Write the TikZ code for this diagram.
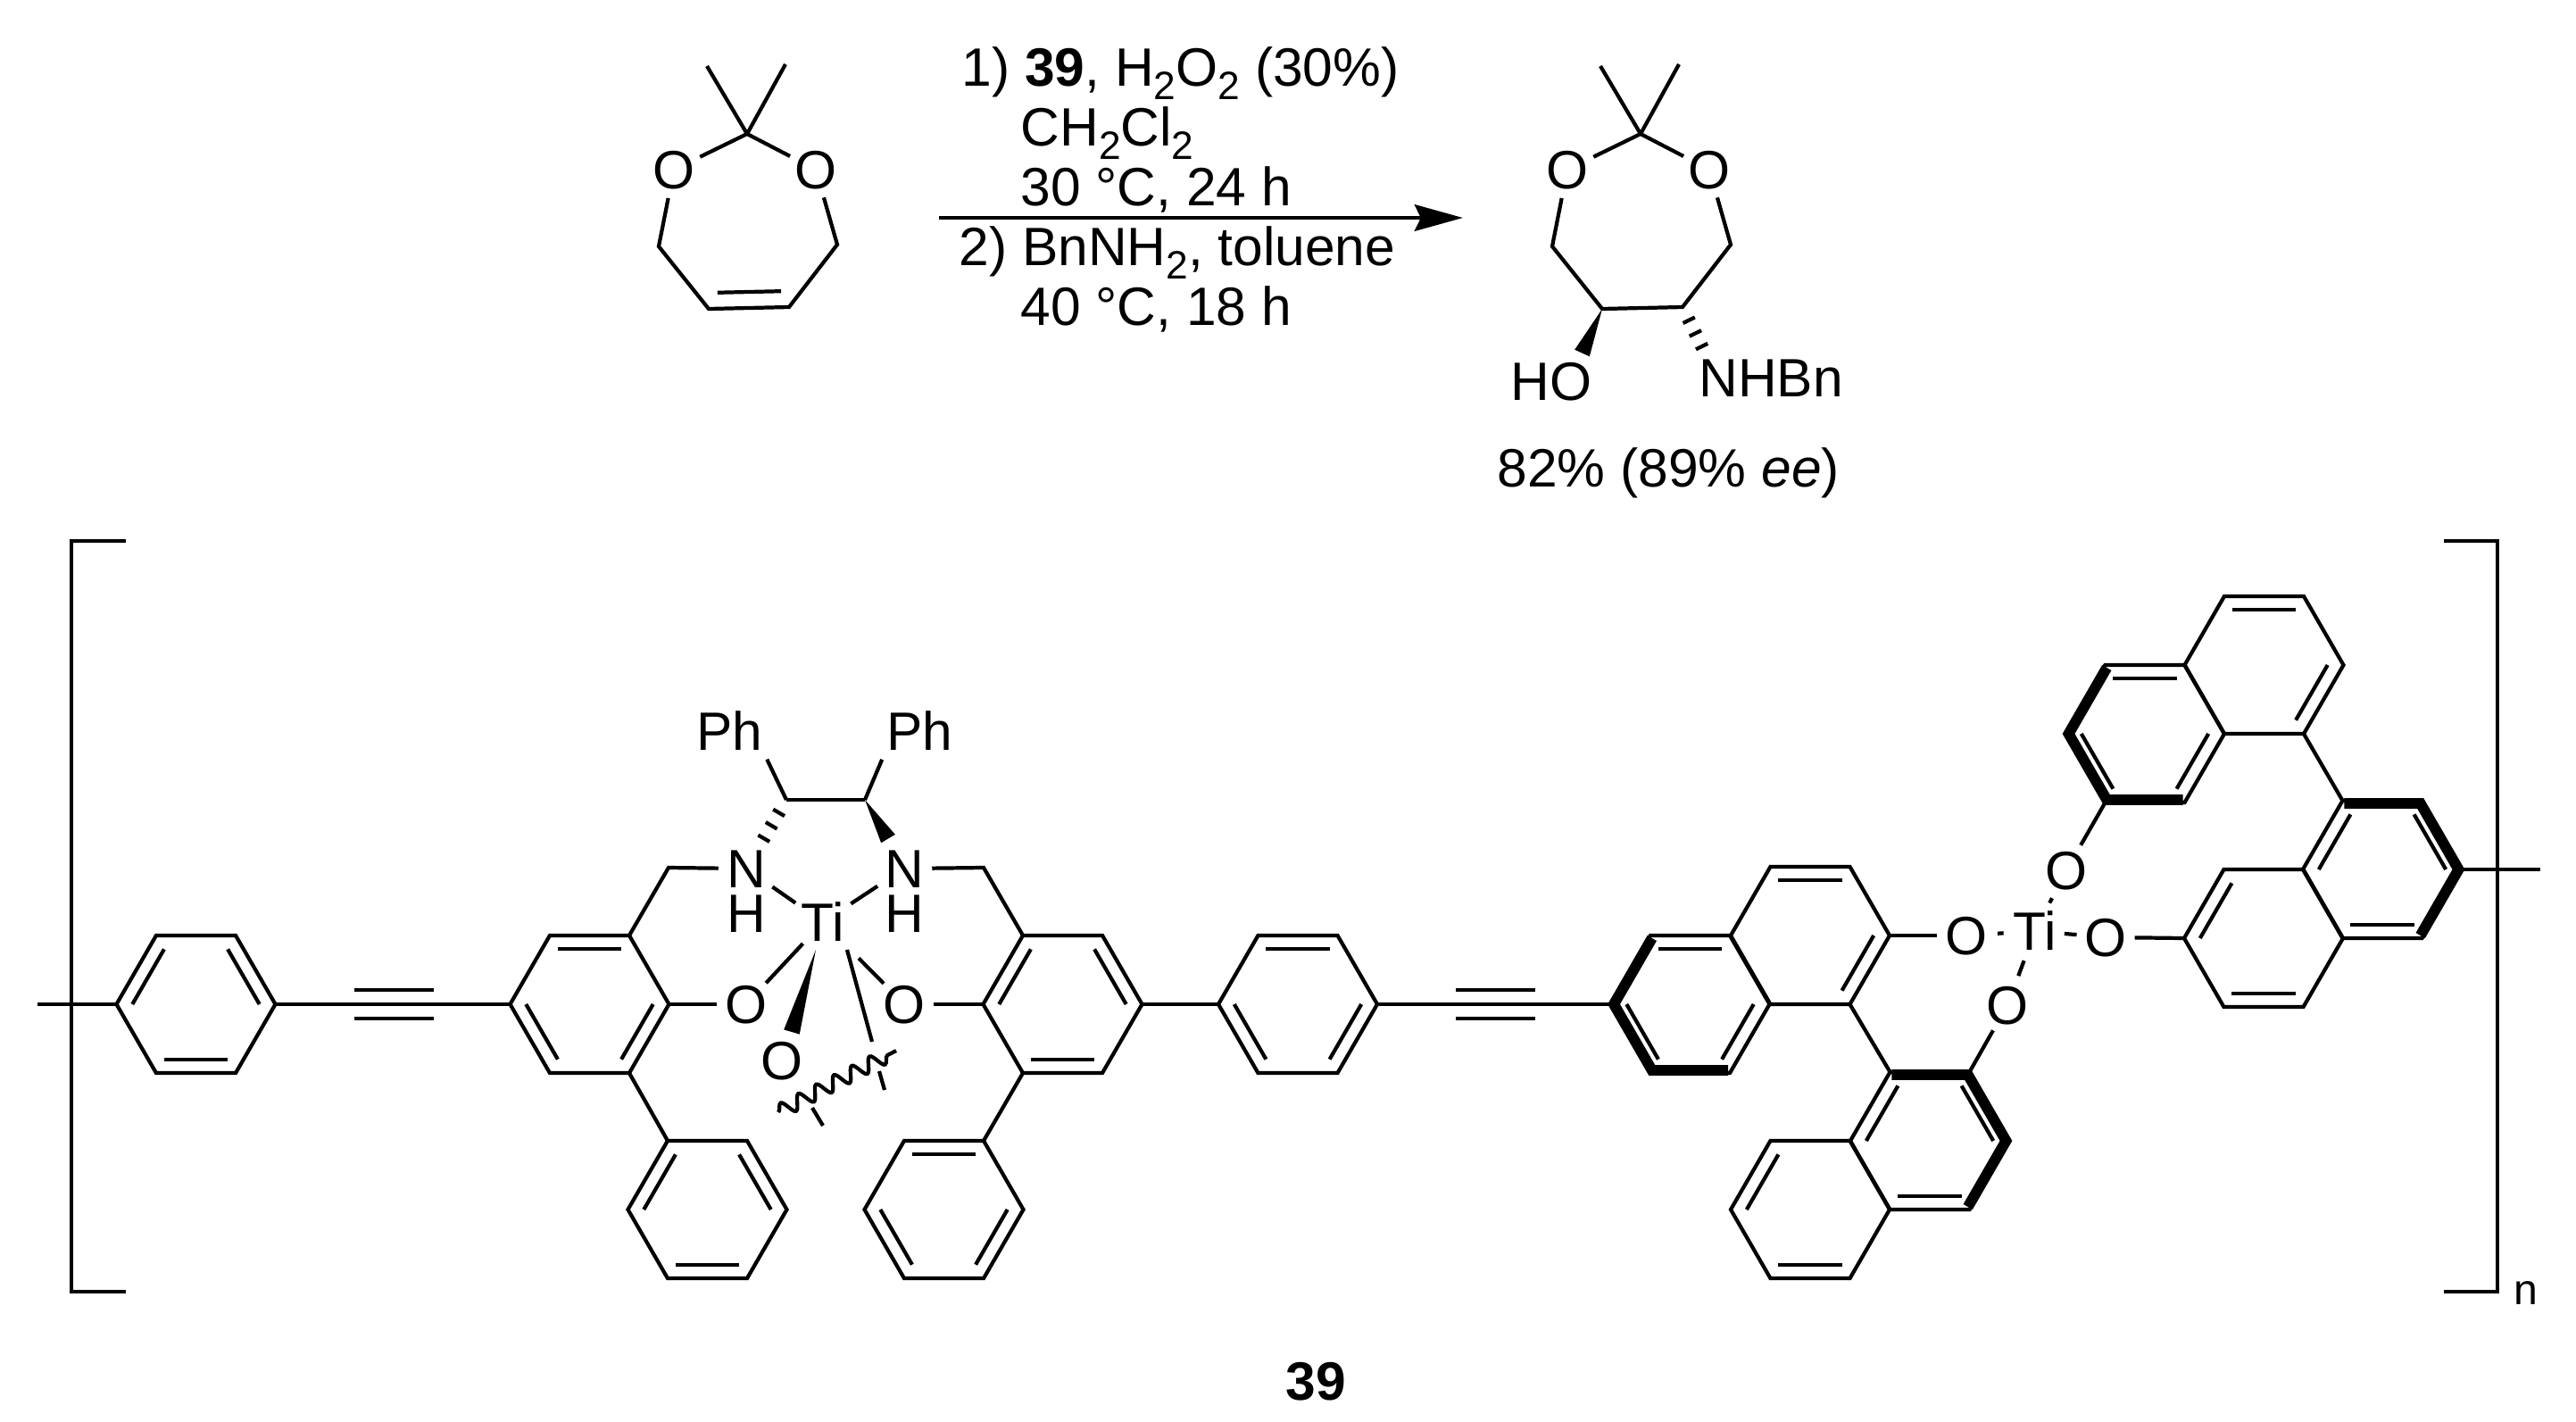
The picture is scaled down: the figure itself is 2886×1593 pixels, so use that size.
\documentclass[tikz,border=0pt]{standalone}
\usepackage{fontspec}
\setmainfont{Liberation Sans}
\usetikzlibrary{positioning,calc,arrows.meta,decorations.pathmorphing}

\newcommand{\lowtwo}{\raisebox{-.26em}{\fontsize{12.6}{12.6}\selectfont 2}}

\tikzset{
	every node/.style={font=\fontsize{17.2}{20}\selectfont},
	bond/.style={line width=1.2pt,line join=miter},
	heavybond/.style={line width=3.4pt,line join=miter},
	atom/.style={circle,inner sep=0pt,text height=12.2pt,text depth=0pt},
	group/.style={rectangle,inner sep=0pt,text height=12.2pt,text depth=0pt},
	txt/.style={anchor=base west,inner sep=0pt}
}

\newcommand{\hexring}[3]{
	\coordinate (#1) at (#2,#3);
	\foreach \k in {1,...,6}{
		\coordinate (#1-\k) at ($(#1)+({(\k-1)*60}:89)$);
	}
	\draw[bond] (#1-1) -- (#1-2) -- (#1-3) -- (#1-4) -- (#1-5) -- (#1-6) -- cycle;
}
\newcommand{\alkyne}[2]{
	\draw[bond] (#1) -- (#2);
	\draw[bond] ($(#1)!.335!(#2)+(0,-16)$) -- ($(#1)!.675!(#2)+(0,-16)$);
	\draw[bond] ($(#1)!.335!(#2)+(0,16)$) -- ($(#1)!.675!(#2)+(0,16)$);
}
\newcommand{\wedgeto}[2]{
	\fill ($(#1)$) -- ($(#2)!2.6pt!90:(#1)$) -- ($(#2)!2.6pt!-90:(#1)$) -- cycle;
}
\newcommand{\hashto}[2]{
	\foreach \t in {.3,.6,.9}{
		\draw[bond] ($(#1)!\t!(#2)!2.1pt!90:(#2)$) -- ($(#1)!\t!(#2)!2.1pt!-90:(#2)$);
	}
}
\newcommand{\dioxepane}[2]{
	\coordinate (#1c) at (#2+837,150);
	\coordinate (#1ma) at (#2+792,74);
	\coordinate (#1mb) at (#2+880,72);
	\node[atom] (#1oa) at (#2+755,190) {O};
	\node[atom] (#1ob) at (#2+914,190) {O};
	\coordinate (#1ca) at (#2+738,276);
	\coordinate (#1cb) at (#2+938,274);
	\coordinate (#1cc) at (#2+794,346);
	\coordinate (#1cd) at (#2+884,344);
	\draw[bond] (#1oa) -- (#1ca) -- (#1cc) -- (#1cd) -- (#1cb) -- (#1ob);
	\draw[bond] (#1oa) -- (#1c) -- (#1ob);
	\draw[bond] (#1c) -- (#1ma);
	\draw[bond] (#1c) -- (#1mb);
}

\begin{document}
\begin{tikzpicture}[x=.01cm,y=-.01cm]
	\useasboundingbox (0,0) rectangle (2886,1593);

	\dioxepane{sm}{0}
	\draw[bond] ($(smcc)!.11!(smcd)+(0,-18)$) -- ($(smcc)!.9!(smcd)+(0,-18)$);

	\dioxepane{pr}{1001}
	\node[group] (hydroxy) at (1738,427) {HO};
	\node[group] (amino) at (1984,423) {NHBn};
	\coordinate (prw) at (1772.5,395.5);
	\coordinate (prh) at (1909,393);
	\wedgeto{prcc}{prw}
	\hashto{prcd}{prh}

	\coordinate (arrowa) at (1052,244);
	\coordinate (arrowb) at (1639,244);
	\draw[line width=1.4pt,-{Stealth[length=15.4pt,width=8.4pt,inset=2pt]}] (arrowa) -- (arrowb);
	\node[txt] (conda) at (1077,96) {1) \textbf{39}, H\lowtwo O\lowtwo\ (30\%)};
	\node[txt] (condb) at (1143,163) {CH\lowtwo Cl\lowtwo};
	\node[txt] (condc) at (1143,230) {30 °C, 24 h};
	\node[txt] (condd) at (1074,297) {2) BnNH\lowtwo, toluene};
	\node[txt] (conde) at (1143,364) {40 °C, 18 h};
	\node[txt] (yield) at (1677,545) {82\% (89\% \textit{ee})};

	\coordinate (brla) at (141,606);
	\coordinate (brlb) at (80,606);
	\coordinate (brlc) at (80,1447);
	\coordinate (brld) at (141,1447);
	\coordinate (brra) at (2738,606);
	\coordinate (brrb) at (2798,606);
	\coordinate (brrc) at (2798,1447);
	\coordinate (brrd) at (2738,1447);
	\draw[bond] (brla) -- (brlb) -- (brlc) -- (brld);
	\draw[bond] (brra) -- (brrb) -- (brrc) -- (brrd);
	\node[inner sep=0pt,font=\fontsize{13.7}{16}\selectfont] (repeat) at (2830,1449) {n};

	\hexring{phA}{219.5}{1125}
	\hexring{arL}{660.5}{1125}
	\hexring{phL}{792.5}{1355}
	\hexring{arR}{1190.5}{1125}
	\hexring{phR}{1057.5}{1355}
	\hexring{phM}{1454}{1125}
	\hexring{naA}{1893.5}{1125}
	\hexring{naB}{2028}{1048}
	\hexring{naC}{2162}{1278}
	\hexring{naD}{2028}{1355}
	\hexring{naE}{2403}{822}
	\hexring{naF}{2536.5}{745}
	\hexring{naG}{2669}{974}
	\hexring{naH}{2536}{1051}

	\foreach \r/\a/\b in {phA/4/5,phA/6/1,phA/2/3,arL/5/6,arL/1/2,arL/3/4,
		phL/4/5,phL/6/1,phL/2/3,arR/4/5,arR/6/1,arR/2/3,
		phR/5/6,phR/3/4,phR/1/2,phM/5/6,phM/3/4,phM/1/2,
		naA/5/6,naA/3/4,naA/1/2,naB/5/6,naB/1/2,
		naC/4/5,naC/6/1,naC/2/3,naD/4/5,naD/2/3,
		naE/5/6,naE/3/4,naE/1/2,naF/5/6,naF/1/2,
		naG/4/5,naG/6/1,naG/2/3,naH/4/5,naH/2/3}{
		\draw[bond] ($(\r-\a)!.2!(\r)$) -- ($(\r-\b)!.2!(\r)$);
	}
	\foreach \r/\a/\b/\c/\d in {naA/5/4/3/2,naC/5/6/1/2,naE/2/3/4/5,naG/5/6/1/2}{
		\draw[heavybond] ($(\r-\a)!.04!(\r)$) -- ($(\r-\b)!.04!(\r)$) -- ($(\r-\c)!.04!(\r)$) -- ($(\r-\d)!.04!(\r)$);
	}

	\coordinate (stubl) at (42,1125);
	\coordinate (stubr) at (2846,974);
	\draw[bond] (stubl) -- (phA-4);
	\draw[bond] (naG-1) -- (stubr);
	\alkyne{phA-1}{arL-4}
	\alkyne{phM-1}{naA-4}
	\draw[bond] (arR-1) -- (phM-4);
	\draw[bond] (arL-2) -- (phL-5);
	\draw[bond] (arR-3) -- (phR-6);
	\draw[bond] (naB-2) -- (naC-5);
	\draw[bond] (naF-2) -- (naG-5);

	\node[atom] (Ti) at (922,1033) {Ti};
	\node[atom] (Nl) at (836,973) {N};
	\node[atom,below=-3.6pt of Nl] (Hl) {H};
	\node[atom] (Nr) at (1013,973) {N};
	\node[atom,below=-3.6pt of Nr] (Hr) {H};
	\node[atom] (Ol) at (836,1125) {O};
	\node[atom] (Or) at (1013,1125) {O};
	\node[atom] (Ob) at (876,1188) {O};
	\node[group] (Phl) at (817,819) {Ph};
	\node[group] (Phr) at (1030,819) {Ph};
	\coordinate (cl) at (881,896);
	\coordinate (cr) at (969,896);
	\coordinate (chl) at (749,972);
	\coordinate (chr) at (1102,972);
	\coordinate (hashl) at (853,944);
	\coordinate (wedgen) at (995,939.5);
	\coordinate (wedgeotip) at (914,1064);
	\coordinate (wedgeo) at (887,1156);
	\coordinate (lna) at (949,1064);
	\coordinate (lnb) at (977,1167);
	\coordinate (lnc) at (985,1200);
	\coordinate (lnd) at (991,1221);
	\coordinate (lne) at (910,1241);
	\coordinate (lnf) at (922,1261);
	\coordinate (wava) at (872,1246);
	\coordinate (wavb) at (1004,1177);

	\draw[bond] (arL-6) -- (chl) -- (Nl);
	\draw[bond] (arR-5) -- (chr) -- (Nr);
	\draw[bond] (arL-1) -- (Ol);
	\draw[bond] (arR-4) -- (Or);
	\draw[bond] (cl) -- (cr);
	\draw[bond,shorten >=3pt] (cl) -- (Phl.south east);
	\draw[bond,shorten >=3pt] (cr) -- (Phr.south west);
	\hashto{cl}{hashl}
	\wedgeto{cr}{wedgen}
	\wedgeto{wedgeotip}{wedgeo}
	\draw[bond,shorten <=1.3pt,shorten >=1.3pt] (Nl) -- (Ti);
	\draw[bond,shorten <=1.3pt,shorten >=1.3pt] (Nr) -- (Ti);
	\draw[bond] (Ol) -- (Ti);
	\draw[bond,shorten >=6.8pt] (Or) -- (Ti);
	\draw[bond] (lna) -- (lnb);
	\draw[bond] (lnc) -- (lnd);
	\draw[bond] (lne) -- (lnf);
	\draw[bond,decorate,decoration={snake,amplitude=2.3pt,segment length=6.4pt}] (wava) -- (wavb);

	\node[atom] (Tib) at (2280,1043) {Ti};
	\node[atom] (Oa) at (2203,1048) {O};
	\node[atom] (Oc) at (2249,1126) {O};
	\node[atom] (Od) at (2315,975) {O};
	\node[atom] (Oe) at (2359,1050) {O};
	\draw[bond] (naB-1) -- (Oa);
	\draw[bond] (naC-6) -- (Oc);
	\draw[bond] (naE-3) -- (Od);
	\draw[bond] (naH-4) -- (Oe);
	\draw[bond,shorten <=.7pt,shorten >=.7pt] (Oa) -- (Tib);
	\draw[bond,shorten <=.7pt,shorten >=.7pt] (Oc) -- (Tib);
	\draw[bond,shorten <=.7pt,shorten >=.7pt] (Od) -- (Tib);
	\draw[bond] (Oe) -- (Tib);

	\node[group,font=\fontsize{17.2}{20}\selectfont\bfseries] (compound) at (1474.5,1547) {39};
\end{tikzpicture}
\end{document}
